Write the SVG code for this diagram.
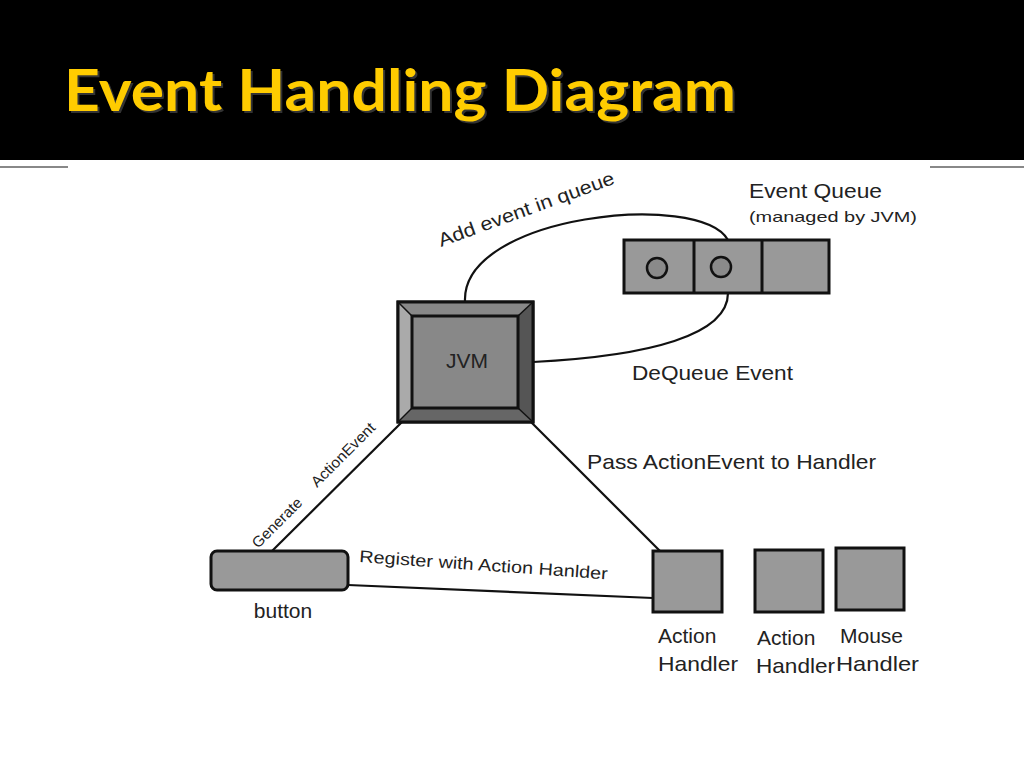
<svg xmlns="http://www.w3.org/2000/svg" width="1024" height="768" viewBox="0 0 1024 768">
<style>
.lbl{font-family:"Liberation Sans",Arial,sans-serif;fill:#222;}
.box{fill:#999;stroke:#111;stroke-width:3;}
.ln{fill:none;stroke:#111;stroke-width:2.2;}
</style>
<rect x="0" y="0" width="1024" height="768" fill="#fff"/>
<rect x="0" y="0" width="1024" height="160" fill="#000"/>
<line x1="0" y1="167" x2="68" y2="167" stroke="#888" stroke-width="2"/>
<line x1="930" y1="167" x2="1024" y2="167" stroke="#888" stroke-width="2"/>
<text x="64" y="111" font-family="Lato,'Open Sans',sans-serif" font-weight="bold" font-size="58" fill="#333" textLength="672" lengthAdjust="spacingAndGlyphs" transform="translate(2,2)">Event Handling Diagram</text>
<text x="64" y="111" font-family="Lato,'Open Sans',sans-serif" font-weight="bold" font-size="58" fill="#FFCC00" textLength="672" lengthAdjust="spacingAndGlyphs">Event Handling Diagram</text>

<g id="connectors">
<path class="ln" d="M465,301 C462,215 700,190 728,240"/>
<path class="ln" d="M533,362 C650,356 728,335 728,293"/>
<line class="ln" x1="403" y1="421" x2="272" y2="551"/>
<line class="ln" x1="530" y1="421" x2="660" y2="551"/>
<line class="ln" x1="348" y1="585" x2="653" y2="598"/>
<text class="lbl" font-size="19" transform="translate(441,247) rotate(-20)" textLength="186" lengthAdjust="spacingAndGlyphs">Add event in queue</text>
<text class="lbl" font-size="21" x="632" y="380" textLength="161" lengthAdjust="spacingAndGlyphs">DeQueue Event</text>
<text class="lbl" font-size="21" x="587" y="469" textLength="289" lengthAdjust="spacingAndGlyphs">Pass ActionEvent to Handler</text>
<text class="lbl" font-size="17" transform="translate(359,562) rotate(4)" textLength="249" lengthAdjust="spacingAndGlyphs">Register with Action  Hanlder</text>
<text class="lbl" font-size="15" transform="translate(258,549) rotate(-45)" textLength="64" lengthAdjust="spacingAndGlyphs">Generate</text>
<text class="lbl" font-size="15" transform="translate(317,488) rotate(-45)" textLength="84" lengthAdjust="spacingAndGlyphs">ActionEvent</text>
</g>

<g id="jvm">
<rect x="398" y="302" width="135" height="120" fill="#777" stroke="#111" stroke-width="3"/>
<polygon points="398,302 533,302 518,316 412,316" fill="#888"/>
<polygon points="398,302 412,316 412,408 398,422" fill="#aaa"/>
<polygon points="533,302 533,422 518,408 518,316" fill="#555"/>
<polygon points="398,422 412,408 518,408 533,422" fill="#666"/>
<line x1="398" y1="302" x2="412" y2="316" stroke="#111" stroke-width="1.5"/>
<line x1="533" y1="302" x2="518" y2="316" stroke="#111" stroke-width="1.5"/>
<line x1="398" y1="422" x2="412" y2="408" stroke="#111" stroke-width="1.5"/>
<line x1="533" y1="422" x2="518" y2="408" stroke="#111" stroke-width="1.5"/>
<rect x="398" y="302" width="135" height="120" fill="none" stroke="#111" stroke-width="3"/>
<rect x="412" y="316" width="106" height="92" fill="#888" stroke="#111" stroke-width="3"/>
<text class="lbl" font-size="21" x="467" y="368" text-anchor="middle">JVM</text>
</g>

<g id="queue">
<rect class="box" x="624" y="240" width="205" height="53" fill="#8a8a8a"/>
<line x1="694" y1="240" x2="694" y2="293" stroke="#111" stroke-width="3"/>
<line x1="762" y1="240" x2="762" y2="293" stroke="#111" stroke-width="3"/>
<circle cx="657" cy="268" r="10" fill="#8a8a8a" stroke="#111" stroke-width="2.5"/>
<circle cx="721" cy="267" r="10" fill="#8a8a8a" stroke="#111" stroke-width="2.5"/>
<text class="lbl" font-size="21" x="749" y="198" textLength="133" lengthAdjust="spacingAndGlyphs">Event Queue</text>
<text class="lbl" font-size="15" x="749" y="222" textLength="168" lengthAdjust="spacingAndGlyphs">(managed by JVM)</text>
</g>

<g id="button">
<rect class="box" x="211" y="551" width="137" height="39" rx="6"/>
<text class="lbl" font-size="21" x="283" y="618" text-anchor="middle">button</text>
</g>

<g id="action-handler-1">
<rect class="box" x="653" y="551" width="69" height="61"/>
<text class="lbl" font-size="21" x="658" y="643">Action</text>
<text class="lbl" font-size="21" x="658" y="671" textLength="80" lengthAdjust="spacingAndGlyphs">Handler</text>
</g>
<g id="action-handler-2">
<rect class="box" x="755" y="550" width="68" height="62"/>
<text class="lbl" font-size="21" x="757" y="645">Action</text>
<text class="lbl" font-size="21" x="756" y="673" textLength="79" lengthAdjust="spacingAndGlyphs">Handler</text>
</g>
<g id="mouse-handler">
<rect class="box" x="836" y="548" width="68" height="62"/>
<text class="lbl" font-size="21" x="840" y="643">Mouse</text>
<text class="lbl" font-size="21" x="836" y="671" textLength="83" lengthAdjust="spacingAndGlyphs">Handler</text>
</g>
</svg>
